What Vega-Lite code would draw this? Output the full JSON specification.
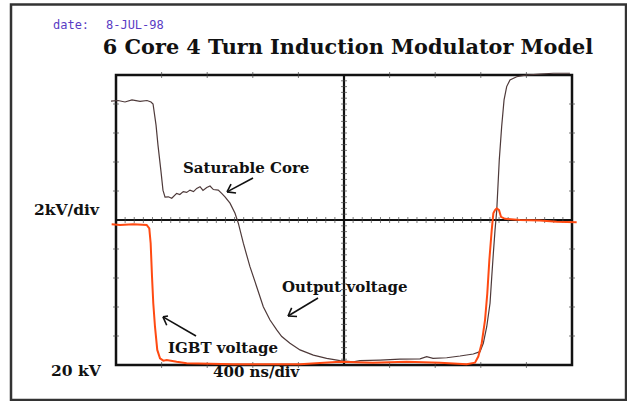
{
  "$schema": "https://vega.github.io/schema/vega-lite/v6.json",
  "width": 456,
  "height": 290,
  "autosize": {"type": "none"},
  "padding": {"left": 116, "top": 75, "right": 55, "bottom": 36},
  "background": "white",
  "view": {"stroke": "#111111", "strokeWidth": 2.5},
  "datasets": {
    "traces": [
      {"series": "Output voltage", "t": -44, "v": 4.10},
      {"series": "Output voltage", "t": 18, "v": 4.12},
      {"series": "Output voltage", "t": 79, "v": 4.07},
      {"series": "Output voltage", "t": 140, "v": 4.14},
      {"series": "Output voltage", "t": 211, "v": 4.09},
      {"series": "Output voltage", "t": 272, "v": 4.12},
      {"series": "Output voltage", "t": 307, "v": 4.07},
      {"series": "Output voltage", "t": 325, "v": 4.0},
      {"series": "Output voltage", "t": 351, "v": 3.28},
      {"series": "Output voltage", "t": 368, "v": 2.59},
      {"series": "Output voltage", "t": 395, "v": 1.66},
      {"series": "Output voltage", "t": 412, "v": 1.03},
      {"series": "Output voltage", "t": 430, "v": 0.79},
      {"series": "Output voltage", "t": 459, "v": 0.80},
      {"series": "Output voltage", "t": 489, "v": 0.75},
      {"series": "Output voltage", "t": 532, "v": 0.92},
      {"series": "Output voltage", "t": 560, "v": 0.88},
      {"series": "Output voltage", "t": 590, "v": 0.98},
      {"series": "Output voltage", "t": 620, "v": 0.95},
      {"series": "Output voltage", "t": 649, "v": 1.03},
      {"series": "Output voltage", "t": 680, "v": 0.98},
      {"series": "Output voltage", "t": 708, "v": 1.09},
      {"series": "Output voltage", "t": 737, "v": 1.15},
      {"series": "Output voltage", "t": 763, "v": 1.02},
      {"series": "Output voltage", "t": 796, "v": 1.12},
      {"series": "Output voltage", "t": 825, "v": 1.17},
      {"series": "Output voltage", "t": 854, "v": 1.05},
      {"series": "Output voltage", "t": 897, "v": 1.03},
      {"series": "Output voltage", "t": 927, "v": 0.92},
      {"series": "Output voltage", "t": 956, "v": 0.80},
      {"series": "Output voltage", "t": 1000, "v": 0.58},
      {"series": "Output voltage", "t": 1044, "v": 0.23},
      {"series": "Output voltage", "t": 1073, "v": -0.11},
      {"series": "Output voltage", "t": 1117, "v": -0.80},
      {"series": "Output voltage", "t": 1175, "v": -1.61},
      {"series": "Output voltage", "t": 1234, "v": -2.30},
      {"series": "Output voltage", "t": 1292, "v": -2.99},
      {"series": "Output voltage", "t": 1351, "v": -3.45},
      {"series": "Output voltage", "t": 1410, "v": -3.79},
      {"series": "Output voltage", "t": 1454, "v": -4.02},
      {"series": "Output voltage", "t": 1526, "v": -4.25},
      {"series": "Output voltage", "t": 1614, "v": -4.48},
      {"series": "Output voltage", "t": 1731, "v": -4.66},
      {"series": "Output voltage", "t": 1848, "v": -4.77},
      {"series": "Output voltage", "t": 1965, "v": -4.85},
      {"series": "Output voltage", "t": 2082, "v": -4.89},
      {"series": "Output voltage", "t": 2140, "v": -4.85},
      {"series": "Output voltage", "t": 2316, "v": -4.83},
      {"series": "Output voltage", "t": 2491, "v": -4.80},
      {"series": "Output voltage", "t": 2667, "v": -4.79},
      {"series": "Output voltage", "t": 2725, "v": -4.71},
      {"series": "Output voltage", "t": 2781, "v": -4.77},
      {"series": "Output voltage", "t": 2901, "v": -4.75},
      {"series": "Output voltage", "t": 3018, "v": -4.69},
      {"series": "Output voltage", "t": 3134, "v": -4.62},
      {"series": "Output voltage", "t": 3193, "v": -4.54},
      {"series": "Output voltage", "t": 3222, "v": -4.25},
      {"series": "Output voltage", "t": 3252, "v": -3.68},
      {"series": "Output voltage", "t": 3281, "v": -2.87},
      {"series": "Output voltage", "t": 3296, "v": -1.96},
      {"series": "Output voltage", "t": 3310, "v": -1.15},
      {"series": "Output voltage", "t": 3325, "v": -0.34},
      {"series": "Output voltage", "t": 3340, "v": 0.34},
      {"series": "Output voltage", "t": 3362, "v": 2.07},
      {"series": "Output voltage", "t": 3383, "v": 3.22},
      {"series": "Output voltage", "t": 3404, "v": 4.14},
      {"series": "Output voltage", "t": 3427, "v": 4.60},
      {"series": "Output voltage", "t": 3456, "v": 4.83},
      {"series": "Output voltage", "t": 3515, "v": 4.94},
      {"series": "Output voltage", "t": 3603, "v": 5.0},
      {"series": "Output voltage", "t": 3719, "v": 5.03},
      {"series": "Output voltage", "t": 3836, "v": 5.06},
      {"series": "Output voltage", "t": 3982, "v": 5.06},
      {"series": "IGBT voltage", "t": -38, "v": -0.15},
      {"series": "IGBT voltage", "t": 35, "v": -0.17},
      {"series": "IGBT voltage", "t": 152, "v": -0.15},
      {"series": "IGBT voltage", "t": 269, "v": -0.17},
      {"series": "IGBT voltage", "t": 292, "v": -0.29},
      {"series": "IGBT voltage", "t": 304, "v": -0.80},
      {"series": "IGBT voltage", "t": 316, "v": -1.96},
      {"series": "IGBT voltage", "t": 327, "v": -2.87},
      {"series": "IGBT voltage", "t": 342, "v": -3.68},
      {"series": "IGBT voltage", "t": 362, "v": -4.48},
      {"series": "IGBT voltage", "t": 386, "v": -4.77},
      {"series": "IGBT voltage", "t": 415, "v": -4.85},
      {"series": "IGBT voltage", "t": 445, "v": -4.83},
      {"series": "IGBT voltage", "t": 532, "v": -4.89},
      {"series": "IGBT voltage", "t": 620, "v": -4.94},
      {"series": "IGBT voltage", "t": 1029, "v": -4.97},
      {"series": "IGBT voltage", "t": 1614, "v": -4.97},
      {"series": "IGBT voltage", "t": 1965, "v": -4.89},
      {"series": "IGBT voltage", "t": 2254, "v": -4.92},
      {"series": "IGBT voltage", "t": 2550, "v": -4.89},
      {"series": "IGBT voltage", "t": 2842, "v": -4.92},
      {"series": "IGBT voltage", "t": 3076, "v": -4.97},
      {"series": "IGBT voltage", "t": 3149, "v": -4.92},
      {"series": "IGBT voltage", "t": 3178, "v": -4.71},
      {"series": "IGBT voltage", "t": 3208, "v": -4.25},
      {"series": "IGBT voltage", "t": 3237, "v": -3.45},
      {"series": "IGBT voltage", "t": 3257, "v": -2.53},
      {"series": "IGBT voltage", "t": 3275, "v": -1.38},
      {"series": "IGBT voltage", "t": 3296, "v": -0.34},
      {"series": "IGBT voltage", "t": 3310, "v": 0.23},
      {"series": "IGBT voltage", "t": 3325, "v": 0.34},
      {"series": "IGBT voltage", "t": 3340, "v": 0.40},
      {"series": "IGBT voltage", "t": 3360, "v": 0.34},
      {"series": "IGBT voltage", "t": 3377, "v": 0.11},
      {"series": "IGBT voltage", "t": 3412, "v": 0.04},
      {"series": "IGBT voltage", "t": 3544, "v": 0.0},
      {"series": "IGBT voltage", "t": 3719, "v": -0.02},
      {"series": "IGBT voltage", "t": 3866, "v": -0.06},
      {"series": "IGBT voltage", "t": 4041, "v": -0.08}
    ],
    "centerX": [
      {"t": 80, "v": 0}, {"t": 160, "v": 0}, {"t": 240, "v": 0}, {"t": 320, "v": 0}, {"t": 400, "v": 0},
      {"t": 480, "v": 0}, {"t": 560, "v": 0}, {"t": 640, "v": 0}, {"t": 720, "v": 0}, {"t": 800, "v": 0},
      {"t": 880, "v": 0}, {"t": 960, "v": 0}, {"t": 1040, "v": 0}, {"t": 1120, "v": 0}, {"t": 1200, "v": 0},
      {"t": 1280, "v": 0}, {"t": 1360, "v": 0}, {"t": 1440, "v": 0}, {"t": 1520, "v": 0}, {"t": 1600, "v": 0},
      {"t": 1680, "v": 0}, {"t": 1760, "v": 0}, {"t": 1840, "v": 0}, {"t": 1920, "v": 0},
      {"t": 2080, "v": 0}, {"t": 2160, "v": 0}, {"t": 2240, "v": 0}, {"t": 2320, "v": 0}, {"t": 2400, "v": 0},
      {"t": 2480, "v": 0}, {"t": 2560, "v": 0}, {"t": 2640, "v": 0}, {"t": 2720, "v": 0}, {"t": 2800, "v": 0},
      {"t": 2880, "v": 0}, {"t": 2960, "v": 0}, {"t": 3040, "v": 0}, {"t": 3120, "v": 0}, {"t": 3200, "v": 0},
      {"t": 3280, "v": 0}, {"t": 3360, "v": 0}, {"t": 3440, "v": 0}, {"t": 3520, "v": 0}, {"t": 3600, "v": 0},
      {"t": 3680, "v": 0}, {"t": 3760, "v": 0}, {"t": 3840, "v": 0}, {"t": 3920, "v": 0},
      {"t": 400, "v": 5}, {"t": 800, "v": 5}, {"t": 1200, "v": 5}, {"t": 1600, "v": 5}, {"t": 2400, "v": 5},
      {"t": 2800, "v": 5}, {"t": 3200, "v": 5}, {"t": 3600, "v": 5},
      {"t": 400, "v": -5}, {"t": 800, "v": -5}, {"t": 1200, "v": -5}, {"t": 1600, "v": -5}, {"t": 2400, "v": -5},
      {"t": 2800, "v": -5}, {"t": 3200, "v": -5}, {"t": 3600, "v": -5}
    ],
    "centerY": [
      {"t": 2000, "v": -4.8}, {"t": 2000, "v": -4.6}, {"t": 2000, "v": -4.4}, {"t": 2000, "v": -4.2}, {"t": 2000, "v": -4.0},
      {"t": 2000, "v": -3.8}, {"t": 2000, "v": -3.6}, {"t": 2000, "v": -3.4}, {"t": 2000, "v": -3.2}, {"t": 2000, "v": -3.0},
      {"t": 2000, "v": -2.8}, {"t": 2000, "v": -2.6}, {"t": 2000, "v": -2.4}, {"t": 2000, "v": -2.2}, {"t": 2000, "v": -2.0},
      {"t": 2000, "v": -1.8}, {"t": 2000, "v": -1.6}, {"t": 2000, "v": -1.4}, {"t": 2000, "v": -1.2}, {"t": 2000, "v": -1.0},
      {"t": 2000, "v": -0.8}, {"t": 2000, "v": -0.6}, {"t": 2000, "v": -0.4}, {"t": 2000, "v": -0.2},
      {"t": 2000, "v": 0.2}, {"t": 2000, "v": 0.4}, {"t": 2000, "v": 0.6}, {"t": 2000, "v": 0.8}, {"t": 2000, "v": 1.0},
      {"t": 2000, "v": 1.2}, {"t": 2000, "v": 1.4}, {"t": 2000, "v": 1.6}, {"t": 2000, "v": 1.8}, {"t": 2000, "v": 2.0},
      {"t": 2000, "v": 2.2}, {"t": 2000, "v": 2.4}, {"t": 2000, "v": 2.6}, {"t": 2000, "v": 2.8}, {"t": 2000, "v": 3.0},
      {"t": 2000, "v": 3.2}, {"t": 2000, "v": 3.4}, {"t": 2000, "v": 3.6}, {"t": 2000, "v": 3.8}, {"t": 2000, "v": 4.0},
      {"t": 2000, "v": 4.2}, {"t": 2000, "v": 4.4}, {"t": 2000, "v": 4.6}, {"t": 2000, "v": 4.8},
      {"t": 0, "v": -4}, {"t": 0, "v": -3}, {"t": 0, "v": -2}, {"t": 0, "v": -1}, {"t": 0, "v": 1},
      {"t": 0, "v": 2}, {"t": 0, "v": 3}, {"t": 0, "v": 4},
      {"t": 4000, "v": -4}, {"t": 4000, "v": -3}, {"t": 4000, "v": -2}, {"t": 4000, "v": -1}, {"t": 4000, "v": 1},
      {"t": 4000, "v": 2}, {"t": 4000, "v": 3}, {"t": 4000, "v": 4}
    ],
    "arrows": [
      {"arrow": "Saturable Core", "t": 1202, "v": 1.45, "t2": 974, "v2": 0.97},
      {"arrow": "Saturable Core", "t": 974, "v": 0.97, "t2": 1053, "v2": 0.93},
      {"arrow": "Saturable Core", "t": 974, "v": 0.97, "t2": 1009, "v2": 1.24},
      {"arrow": "Output voltage", "t": 1772, "v": -2.69, "t2": 1509, "v2": -3.31},
      {"arrow": "Output voltage", "t": 1509, "v": -3.31, "t2": 1588, "v2": -3.33},
      {"arrow": "Output voltage", "t": 1509, "v": -3.31, "t2": 1541, "v2": -3.03},
      {"arrow": "IGBT voltage", "t": 702, "v": -4.0, "t2": 412, "v2": -3.34},
      {"arrow": "IGBT voltage", "t": 412, "v": -3.34, "t2": 445, "v2": -3.63},
      {"arrow": "IGBT voltage", "t": 412, "v": -3.34, "t2": 456, "v2": -3.31}
    ]
  },
  "layer": [
    {
      "data": {"values": [{"t": -921, "t2": 4474, "v": 7.43, "v2": -6.21}]},
      "mark": {"type": "rect", "fill": "transparent", "stroke": "#333333", "strokeWidth": 2.5, "clip": false},
      "encoding": {
        "x": {"field": "t", "type": "quantitative", "scale": {"domain": [0, 4000], "nice": false, "zero": false}, "axis": null},
        "x2": {"field": "t2"},
        "y": {"field": "v", "type": "quantitative", "scale": {"domain": [-5, 5], "nice": false, "zero": false}, "axis": null},
        "y2": {"field": "v2"}
      }
    },
    {
      "data": {"values": [{"t": 2000}]},
      "mark": {"type": "rule", "color": "#111111", "strokeWidth": 2.2},
      "encoding": {
        "x": {"field": "t", "type": "quantitative", "scale": {"domain": [0, 4000], "nice": false, "zero": false}, "axis": null}
      }
    },
    {
      "data": {"values": [{"v": 0}]},
      "mark": {"type": "rule", "color": "#111111", "strokeWidth": 2.2},
      "encoding": {
        "y": {"field": "v", "type": "quantitative", "scale": {"domain": [-5, 5], "nice": false, "zero": false}, "axis": null}
      }
    },
    {
      "data": {"name": "centerX"},
      "mark": {"type": "tick", "orient": "vertical", "size": 6, "thickness": 1, "color": "#444444"},
      "encoding": {
        "x": {"field": "t", "type": "quantitative", "scale": {"domain": [0, 4000], "nice": false, "zero": false}, "axis": null},
        "y": {"field": "v", "type": "quantitative", "scale": {"domain": [-5, 5], "nice": false, "zero": false}, "axis": null}
      }
    },
    {
      "data": {"name": "centerY"},
      "mark": {"type": "tick", "orient": "horizontal", "size": 6, "thickness": 1, "color": "#444444"},
      "encoding": {
        "x": {"field": "t", "type": "quantitative", "scale": {"domain": [0, 4000], "nice": false, "zero": false}, "axis": null},
        "y": {"field": "v", "type": "quantitative", "scale": {"domain": [-5, 5], "nice": false, "zero": false}, "axis": null}
      }
    },
    {
      "data": {"name": "traces"},
      "mark": {"type": "line", "clip": false, "interpolate": "linear"},
      "encoding": {
        "x": {"field": "t", "type": "quantitative", "scale": {"domain": [0, 4000], "nice": false, "zero": false}, "axis": null},
        "y": {"field": "v", "type": "quantitative", "scale": {"domain": [-5, 5], "nice": false, "zero": false}, "axis": null},
        "color": {"field": "series", "type": "nominal", "scale": {"domain": ["Output voltage", "IGBT voltage"], "range": ["#4e3a3a", "#ff4a12"]}, "legend": null},
        "strokeWidth": {"field": "series", "type": "nominal", "scale": {"domain": ["Output voltage", "IGBT voltage"], "range": [1.2, 2]}, "legend": null},
        "order": {"field": "t", "type": "quantitative"}
      }
    },
    {
      "data": {"name": "arrows"},
      "mark": {"type": "rule", "color": "#111111", "strokeWidth": 1.6, "clip": false},
      "encoding": {
        "x": {"field": "t", "type": "quantitative", "scale": {"domain": [0, 4000], "nice": false, "zero": false}, "axis": null},
        "y": {"field": "v", "type": "quantitative", "scale": {"domain": [-5, 5], "nice": false, "zero": false}, "axis": null},
        "x2": {"field": "t2"},
        "y2": {"field": "v2"},
        "detail": {"field": "arrow"}
      }
    },
    {
      "data": {"values": [
        {"label": "Saturable Core", "t": 588, "v": 1.62},
        {"label": "Output voltage", "t": 1456, "v": -2.47},
        {"label": "IGBT voltage", "t": 456, "v": -4.57},
        {"label": "400 ns/div", "t": 851, "v": -5.43}
      ]},
      "mark": {"type": "text", "font": "DejaVu Serif", "fontWeight": "bold", "fontSize": 15, "align": "left", "baseline": "alphabetic", "color": "#111111", "clip": false},
      "encoding": {
        "x": {"field": "t", "type": "quantitative", "scale": {"domain": [0, 4000], "nice": false, "zero": false}, "axis": null},
        "y": {"field": "v", "type": "quantitative", "scale": {"domain": [-5, 5], "nice": false, "zero": false}, "axis": null},
        "text": {"field": "label"}
      }
    },
    {
      "data": {"values": [
        {"label": "2kV/div", "t": -719, "v": 0.17},
        {"label": "20 kV", "t": -570, "v": -5.38}
      ]},
      "mark": {"type": "text", "font": "DejaVu Serif", "fontWeight": "bold", "fontSize": 15.5, "align": "left", "baseline": "alphabetic", "color": "#111111", "clip": false},
      "encoding": {
        "x": {"field": "t", "type": "quantitative", "scale": {"domain": [0, 4000], "nice": false, "zero": false}, "axis": null},
        "y": {"field": "v", "type": "quantitative", "scale": {"domain": [-5, 5], "nice": false, "zero": false}, "axis": null},
        "text": {"field": "label"}
      }
    },
    {
      "data": {"values": [{"label": "6 Core 4 Turn Induction Modulator Model", "t": 2035, "v": 5.72}]},
      "mark": {"type": "text", "font": "DejaVu Serif", "fontWeight": "bold", "fontSize": 20.8, "align": "center", "baseline": "alphabetic", "color": "#111111", "clip": false},
      "encoding": {
        "x": {"field": "t", "type": "quantitative", "scale": {"domain": [0, 4000], "nice": false, "zero": false}, "axis": null},
        "y": {"field": "v", "type": "quantitative", "scale": {"domain": [-5, 5], "nice": false, "zero": false}, "axis": null},
        "text": {"field": "label"}
      }
    },
    {
      "data": {"values": [
        {"label": "date:", "t": -553, "v": 6.58},
        {"label": "8-JUL-98", "t": -88, "v": 6.58}
      ]},
      "mark": {"type": "text", "font": "DejaVu Sans Mono", "fontSize": 12, "align": "left", "baseline": "alphabetic", "color": "#5a3cc4", "clip": false},
      "encoding": {
        "x": {"field": "t", "type": "quantitative", "scale": {"domain": [0, 4000], "nice": false, "zero": false}, "axis": null},
        "y": {"field": "v", "type": "quantitative", "scale": {"domain": [-5, 5], "nice": false, "zero": false}, "axis": null},
        "text": {"field": "label"}
      }
    }
  ]
}
